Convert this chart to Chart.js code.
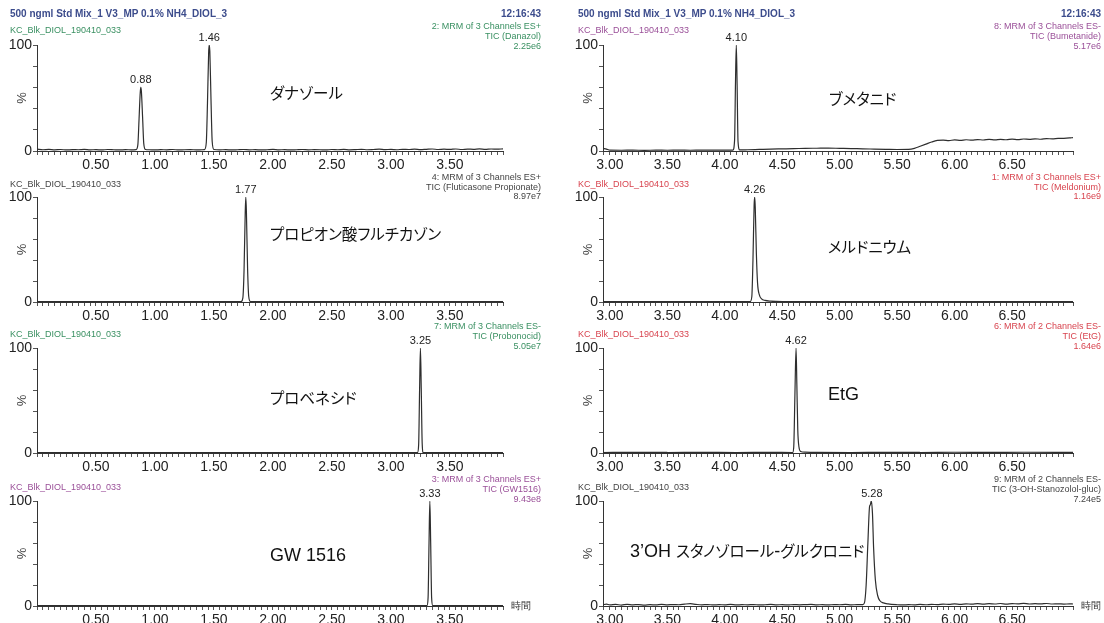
<!DOCTYPE html>
<html>
<head>
<meta charset="utf-8">
<script src="https://cdn.jsdelivr.net/npm/chart.js@4.4.1/dist/chart.umd.min.js"></script>
<style>
  body { margin: 0; background: #fff; width: 1104px; height: 623px; overflow: hidden; position: relative; font-family: "Liberation Sans", Arial, sans-serif; }
  canvas { position: absolute; }
  .txt { position: absolute; white-space: nowrap; font-size: 9px; line-height: 10px; }
  .title { font-weight: bold; font-size: 10px; line-height: 12px; color: #3c4c8c; }
  .name { position: absolute; white-space: nowrap; font-family: "Liberation Sans", "Noto Sans CJK JP", sans-serif; font-size: 18px; line-height: 22px; color: #111; }
  .jp { font-family: "Noto Sans CJK JP", sans-serif; font-size: 15.5px; font-feature-settings: "palt" 1; }
</style>
</head>
<body>
<script>
// Header texts
const runTitle = "500 ngml Std Mix_1 V3_MP 0.1% NH4_DIOL_3";
const runTime = "12:16:43";
const sampleName = "KC_Blk_DIOL_190410_033";
const timeUnit = "時間";

// Retention time ranges (min) of the two columns
const leftTimeRange = [0, 3.95];
const rightTimeRange = [2.94, 7.03];

// Compound names written on each panel
const compoundNames = ["ダナゾール", "プロピオン酸フルチカゾン", "プロベネシド", "GW 1516",
  "ブメタニド", "メルドニウム", "EtG", "3’OH スタノゾロール-グルクロニド"];

// Channel descriptions (top right of each panel)
const danazolInfo = ["2: MRM of 3 Channels ES+", "TIC (Danazol)", "2.25e6"];
const fluticasoneInfo = ["4: MRM of 3 Channels ES+", "TIC (Fluticasone Propionate)", "8.97e7"];
const probenecidInfo = ["7: MRM of 3 Channels ES-", "TIC (Probonocid)", "5.05e7"];
const gw1516Info = ["3: MRM of 3 Channels ES+", "TIC (GW1516)", "9.43e8"];
const bumetanideInfo = ["8: MRM of 3 Channels ES-", "TIC (Bumetanide)", "5.17e6"];
const meldoniumInfo = ["1: MRM of 3 Channels ES+", "TIC (Meldonium)", "1.16e9"];
const etgInfo = ["6: MRM of 2 Channels ES-", "TIC (EtG)", "1.64e6"];
const stanozololInfo = ["9: MRM of 2 Channels ES-", "TIC (3-OH-Stanozolol-gluc)", "7.24e5"];

// Labelled peaks: [retention time, % height]
const danazolPeaks = [[0.88, 60], [1.46, 100]];
const fluticasonePeaks = [[1.77, 100]];
const probenecidPeaks = [[3.25, 100]];
const gw1516Peaks = [[3.33, 100]];
const bumetanidePeaks = [[4.10, 100]];
const meldoniumPeaks = [[4.26, 100]];
const etgPeaks = [[4.62, 100]];
const stanozololPeaks = [[5.28, 100]];

// Traces: [time, %]
const danazolTrace = [[0.00, 1.8], [0.05, 1.2], [0.10, 1.5], [0.15, 1.1], [0.20, 1.4], [0.25, 1.0], [0.30, 1.3],
  [0.35, 1.2], [0.40, 1.5], [0.45, 1.1], [0.50, 1.3], [0.55, 1.0], [0.60, 1.4], [0.65, 1.2], [0.70, 1.0],
  [0.75, 1.3], [0.80, 1.1], [0.84, 1.3], [0.855, 6], [0.865, 30], [0.875, 55], [0.88, 60], [0.885, 56],
  [0.895, 32], [0.905, 7], [0.92, 1.4], [0.95, 1.2], [1.00, 1.0], [1.05, 1.3], [1.10, 1.1], [1.15, 1.4],
  [1.20, 1.0], [1.25, 1.2], [1.30, 1.3], [1.35, 1.1], [1.40, 1.2], [1.42, 1.3], [1.435, 8], [1.445, 45],
  [1.455, 93], [1.46, 100], [1.465, 94], [1.475, 48], [1.485, 9], [1.50, 1.4], [1.55, 1.1], [1.60, 1.3],
  [1.65, 1.0], [1.70, 1.2], [1.75, 1.4], [1.80, 1.1], [1.85, 1.3], [1.90, 1.0], [1.95, 1.2], [2.00, 1.5],
  [2.05, 1.1], [2.10, 1.3], [2.15, 1.0], [2.20, 1.2], [2.25, 1.4], [2.30, 1.1], [2.35, 1.3], [2.40, 1.2],
  [2.45, 1.0], [2.50, 1.4], [2.55, 1.2], [2.60, 1.5], [2.65, 1.1], [2.70, 1.3], [2.75, 1.6], [2.80, 1.2],
  [2.85, 1.4], [2.90, 1.7], [2.95, 1.3], [3.00, 1.5], [3.05, 1.2], [3.10, 1.6], [3.15, 1.4], [3.20, 1.8],
  [3.25, 1.3], [3.30, 1.6], [3.35, 1.9], [3.40, 1.4], [3.45, 1.7], [3.50, 1.5], [3.55, 1.9], [3.60, 1.4],
  [3.65, 1.8], [3.70, 1.6], [3.75, 2.0], [3.80, 1.5], [3.85, 1.9], [3.90, 1.7], [3.95, 2.0]];
const fluticasoneTrace = [[0.00, 0.4], [0.50, 0.3], [1.00, 0.3], [1.50, 0.3], [1.73, 0.3], [1.745, 4],
  [1.755, 30], [1.765, 85], [1.77, 100], [1.775, 86], [1.785, 32], [1.795, 5], [1.81, 0.4], [2.00, 0.3],
  [2.50, 0.3], [3.00, 0.3], [3.50, 0.3], [3.95, 0.3]];
const probenecidTrace = [[0.00, 0.3], [1.00, 0.3], [2.00, 0.3], [3.00, 0.3], [3.225, 0.3], [3.235, 8],
  [3.243, 60], [3.25, 100], [3.257, 62], [3.265, 9], [3.275, 0.3], [3.50, 0.3], [3.95, 0.3]];
const gw1516Trace = [[0.00, 0.3], [1.00, 0.3], [2.00, 0.3], [3.00, 0.3], [3.305, 0.3], [3.315, 8],
  [3.323, 60], [3.33, 100], [3.337, 60], [3.345, 8], [3.355, 0.3], [3.60, 0.3], [3.95, 0.3]];
const bumetanideTrace = [[2.94, 2.5], [2.97, 1.8], [3.00, 0.8], [3.10, 0.7], [3.20, 0.8],
  [3.30, 0.6], [3.40, 0.8], [3.50, 0.7], [3.60, 0.8], [3.70, 0.7], [3.80, 0.9], [3.90, 0.8], [4.00, 0.8],
  [4.07, 0.9], [4.085, 10], [4.093, 65], [4.10, 100], [4.107, 63], [4.115, 9], [4.13, 1.0], [4.20, 1.2],
  [4.30, 1.5], [4.40, 1.8], [4.50, 2.0], [4.60, 2.2], [4.70, 2.5], [4.80, 2.6], [4.90, 2.7], [5.00, 2.5],
  [5.10, 2.3], [5.20, 2.0], [5.30, 1.8], [5.40, 1.6], [5.50, 1.4], [5.60, 1.5], [5.65, 2.5], [5.70, 4.5],
  [5.75, 6.5], [5.80, 8.5], [5.85, 10.0], [5.90, 10.3], [5.95, 9.8], [6.00, 10.5], [6.05, 10.0], [6.10, 10.6],
  [6.15, 10.2], [6.20, 10.8], [6.25, 10.4], [6.30, 10.9], [6.35, 10.5], [6.40, 11.0], [6.45, 10.6],
  [6.50, 11.2], [6.55, 10.8], [6.60, 11.3], [6.65, 11.0], [6.70, 11.5], [6.75, 11.1], [6.80, 11.7],
  [6.85, 11.4], [6.90, 11.9], [6.95, 12.0], [7.00, 12.3], [7.03, 12.6]];
const meldoniumTrace = [[2.94, 0.3], [3.50, 0.3], [4.00, 0.3], [4.22, 0.3], [4.235, 5], [4.245, 40],
  [4.255, 92], [4.26, 100], [4.265, 90], [4.275, 45], [4.285, 18], [4.30, 7], [4.32, 3], [4.35, 1.5],
  [4.40, 0.8], [4.50, 0.4], [5.00, 0.3], [6.00, 0.3], [7.03, 0.3]];
const etgTrace = [[2.94, 0.5], [3.20, 0.6], [3.50, 0.5], [3.80, 0.6], [4.10, 0.5], [4.40, 0.6], [4.59, 0.5],
  [4.60, 6], [4.61, 55], [4.62, 100], [4.627, 65], [4.635, 22], [4.645, 6], [4.66, 1.5], [4.70, 0.8],
  [4.80, 0.6], [5.10, 0.5], [5.40, 0.6], [5.70, 0.5], [6.00, 0.7], [6.30, 0.6], [6.60, 0.7], [7.03, 0.6]];
const stanozololTrace = [[2.94, 1.2], [2.97, 1.8], [3.00, 1.0], [3.05, 1.5], [3.10, 0.9], [3.15, 1.6],
  [3.20, 1.1], [3.25, 1.4], [3.30, 0.9], [3.35, 1.3], [3.40, 1.0], [3.45, 1.5], [3.50, 1.1], [3.55, 1.4],
  [3.60, 1.2], [3.65, 1.8], [3.70, 2.2], [3.75, 1.5], [3.80, 1.1], [3.85, 1.4], [3.90, 1.0], [3.95, 1.3],
  [4.00, 1.1], [4.05, 1.5], [4.10, 1.0], [4.15, 1.3], [4.20, 1.1], [4.25, 1.4], [4.30, 1.0], [4.35, 1.2],
  [4.40, 1.5], [4.45, 1.1], [4.50, 1.3], [4.55, 1.0], [4.60, 1.4], [4.65, 1.1], [4.70, 1.3], [4.75, 1.5],
  [4.80, 1.1], [4.85, 1.3], [4.90, 1.0], [4.95, 1.4], [5.00, 1.2], [5.05, 1.5], [5.10, 1.1], [5.15, 1.3],
  [5.20, 1.4], [5.215, 3], [5.23, 20], [5.245, 60], [5.26, 95], [5.265, 96], [5.275, 100], [5.285, 88],
  [5.295, 55], [5.31, 25], [5.33, 10], [5.35, 5], [5.38, 3], [5.42, 2], [5.50, 1.2], [5.55, 1.0],
  [5.60, 1.3], [5.65, 1.1], [5.70, 1.5], [5.75, 1.2], [5.80, 1.6], [5.85, 1.3], [5.90, 1.8], [5.95, 1.5],
  [6.00, 2.0], [6.05, 1.6], [6.10, 2.1], [6.15, 1.7], [6.20, 2.3], [6.25, 1.8], [6.30, 2.2], [6.35, 1.9],
  [6.40, 2.4], [6.45, 1.8], [6.50, 2.3], [6.55, 2.0], [6.60, 2.5], [6.65, 1.9], [6.70, 2.2], [6.75, 2.0],
  [6.80, 2.4], [6.85, 1.9], [6.90, 2.1], [6.95, 1.8], [7.00, 2.0], [7.03, 1.9]];

// Page layout
const rowTop = [45, 197, 348, 501];
const rowBottom = [151, 302, 453, 606];
const sampleY = [30, 184, 334, 487];
const infoY = [[26, 36, 46], [177, 187, 196], [326, 336, 346], [479, 489, 499]];
const cols = [
  { left: 0, width: 560, axisLeft: 37, axisRight: 503, textLeft: 10, textRight: 541, range: leftTimeRange },
  { left: 560, width: 544, axisLeft: 603, axisRight: 1073, textLeft: 578, textRight: 1101, range: rightTimeRange }
];

const green = "#3a9062";
const purple = "#9a4f98";
const red = "#d8444f";
const grey = "#444";

const panels = [
  { col: 0, row: 0, trace: danazolTrace, peaks: danazolPeaks, info: danazolInfo, color: green, name: compoundNames[0], nameX: 270, nameY: 92 },
  { col: 0, row: 1, trace: fluticasoneTrace, peaks: fluticasonePeaks, info: fluticasoneInfo, color: grey, name: compoundNames[1], nameX: 270, nameY: 233 },
  { col: 0, row: 2, trace: probenecidTrace, peaks: probenecidPeaks, info: probenecidInfo, color: green, name: compoundNames[2], nameX: 270, nameY: 397 },
  { col: 0, row: 3, trace: gw1516Trace, peaks: gw1516Peaks, info: gw1516Info, color: purple, name: compoundNames[3], nameX: 270, nameY: 555 },
  { col: 1, row: 0, trace: bumetanideTrace, peaks: bumetanidePeaks, info: bumetanideInfo, color: purple, name: compoundNames[4], nameX: 829, nameY: 98 },
  { col: 1, row: 1, trace: meldoniumTrace, peaks: meldoniumPeaks, info: meldoniumInfo, color: red, name: compoundNames[5], nameX: 828, nameY: 246 },
  { col: 1, row: 2, trace: etgTrace, peaks: etgPeaks, info: etgInfo, color: red, name: compoundNames[6], nameX: 828, nameY: 394 },
  { col: 1, row: 3, trace: stanozololTrace, peaks: stanozololPeaks, info: stanozololInfo, color: grey, name: compoundNames[7], nameX: 630, nameY: 550 }
];

const fontFamily = '"Liberation Sans", Arial, sans-serif';

// Draws peak retention times, the "%" axis label and the time unit
const annotate = {
  id: "annotate",
  afterDraw(chart, args, opts) {
    const { ctx, scales: { x, y } } = chart;
    ctx.save();
    ctx.fillStyle = "#222";
    ctx.font = "11px " + fontFamily;
    ctx.textAlign = "center";
    ctx.textBaseline = "bottom";
    opts.peaks.forEach(([rt, h]) => {
      ctx.fillText(rt.toFixed(2), x.getPixelForValue(rt), y.getPixelForValue(h) - 2);
    });
    if (opts.showUnit) {
      ctx.textAlign = "left";
      ctx.textBaseline = "middle";
      ctx.font = "10px " + fontFamily;
      ctx.fillStyle = "#333";
      ctx.fillText(timeUnit, x.right + 8, y.bottom);
    }
    ctx.translate(x.left - 15, y.getPixelForValue(50));
    ctx.rotate(-Math.PI / 2);
    ctx.textAlign = "center";
    ctx.textBaseline = "middle";
    ctx.font = "13px " + fontFamily;
    ctx.fillStyle = "#444";
    ctx.fillText("%", 0, 0);
    ctx.restore();
  }
};

function addText(text, x, y, cls, color, alignRight) {
  const div = document.createElement("div");
  div.className = cls;
  if (cls === "name") {
    // Japanese runs get their own (smaller, proportional) font
    text.split(/([\u3000-\u30ff\u4e00-\u9fff]+)/).forEach((part) => {
      if (!part) return;
      const span = document.createElement("span");
      if (/[\u3000-\u30ff\u4e00-\u9fff]/.test(part)) span.className = "jp";
      span.textContent = part;
      div.appendChild(span);
    });
  } else {
    div.textContent = text;
  }
  div.style.color = color;
  document.body.appendChild(div);
  const h = div.offsetHeight;
  div.style.top = (y - h / 2) + "px";
  if (alignRight) {
    div.style.right = (1104 - x) + "px";
  } else {
    div.style.left = x + "px";
  }
}

function makeChart(p) {
  const c = cols[p.col];
  const top = rowTop[p.row] - 22;
  const height = rowBottom[p.row] - top + 26;
  const canvas = document.createElement("canvas");
  canvas.width = c.width;
  canvas.height = height;
  canvas.style.left = c.left + "px";
  canvas.style.top = top + "px";
  document.body.appendChild(canvas);

  const range = c.range;
  new Chart(canvas, {
    type: "line",
    data: {
      datasets: [{
        data: p.trace.map(([x, y]) => ({ x, y })),
        borderColor: "#2e2e2e",
        borderWidth: 1.2,
        pointRadius: 0,
        cubicInterpolationMode: "monotone",
        fill: false
      }]
    },
    options: {
      responsive: false,
      animation: false,
      events: [],
      layout: { padding: { top: 22, right: c.left + c.width - c.axisRight, left: 0, bottom: 0 } },
      plugins: {
        legend: { display: false },
        tooltip: { enabled: false },
        annotate: { peaks: p.peaks, showUnit: p.row === 3 }
      },
      scales: {
        x: {
          type: "linear",
          min: range[0],
          max: range[1],
          afterFit: (s) => { s.height = 26; },
          grid: { drawOnChartArea: false, tickLength: 4, color: "#555" },
          border: { color: "#333", width: 1 },
          ticks: {
            stepSize: 0.05,
            autoSkip: false,
            maxRotation: 0,
            padding: 2,
            color: "#222",
            font: { family: fontFamily, size: 14 },
            callback: (v) => {
              const r = Math.round(v * 2) / 2;
              return Math.abs(v - r) < 1e-6 && v > range[0] + 0.03 && v < range[1] - 0.1 ? r.toFixed(2) : "";
            }
          }
        },
        y: {
          min: 0,
          max: 100,
          afterFit: (s) => { s.width = c.axisLeft - c.left; },
          grid: { drawOnChartArea: false, tickLength: 4, color: "#555" },
          border: { color: "#333", width: 1 },
          ticks: {
            stepSize: 10,
            padding: 1,
            color: "#222",
            font: { family: fontFamily, size: 14 },
            callback: (v) => (v === 0 || v === 100 ? String(v) : "")
          }
        }
      }
    },
    plugins: [annotate]
  });

  // texts around the plot
  addText(sampleName, c.textLeft, sampleY[p.row], "txt", p.color, false);
  p.info.forEach((line, i) => addText(line, c.textRight, infoY[p.row][i], "txt", p.color, true));
  addText(p.name, p.nameX, p.nameY, "name", "#111", false);
}

panels.forEach(makeChart);

cols.forEach((c) => {
  addText(runTitle, c.textLeft, 14, "txt title", "#3c4c8c", false);
  addText(runTime, c.textRight, 14, "txt title", "#3c4c8c", true);
});
</script>
</body>
</html>
